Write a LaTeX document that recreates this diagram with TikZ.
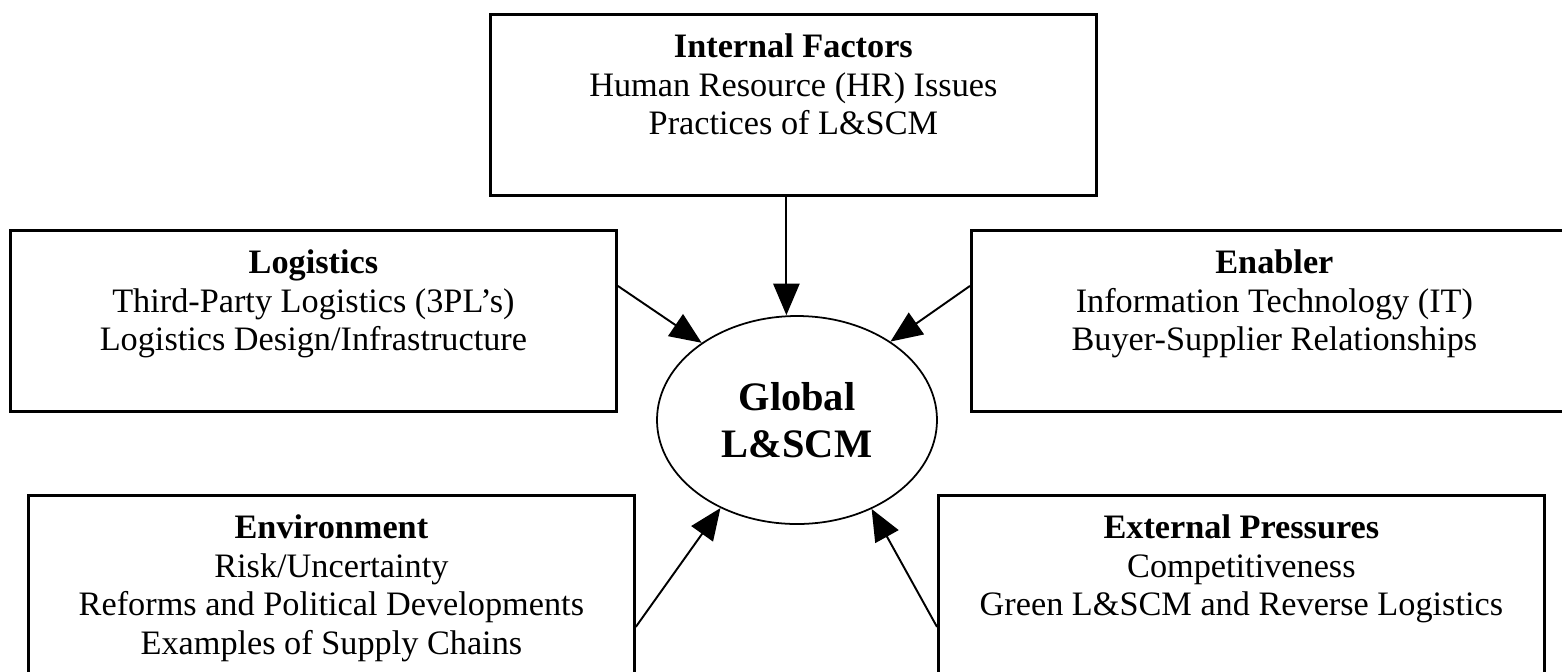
\documentclass[tikz,border=0pt]{standalone}
\usepackage{fontspec}
\setmainfont{Liberation Serif}
\usetikzlibrary{arrows.meta}
\usetikzlibrary{shapes.geometric}

\tikzset{
  factorbox/.style={draw, line width=0.8pt, minimum width=60.6mm, minimum height=18.1mm, inner sep=0pt, anchor=north west},
  factortext/.style={align=center, anchor=north, inner sep=0pt, font=\fontsize{9.75}{11}\selectfont},
  hub/.style={draw, ellipse, line width=0.5pt, minimum width=28mm, minimum height=20.8mm, inner sep=0pt, align=center, font=\fontsize{11.5}{13.4}\selectfont\bfseries},
  feed/.style={-{Triangle[length=9pt,width=7.5pt]}, line width=0.55pt}
}

\begin{document}
\begin{tikzpicture}[x=0.1mm, y=-0.1mm]
  % Boundary
  \useasboundingbox (0,0) rectangle (1562,671);
  % Factor boxes
  \node[factorbox] (intf) at (489,13) {};
  \node[factorbox] (logi) at (9,229) {};
  \node[factorbox] (enab) at (970,229) {};
  \node[factorbox] (envi) at (27,494) {};
  \node[factorbox] (extp) at (937,494) {};
  % Box texts
  \node[factortext] (intftxt) at ([yshift=-4.8pt]intf.north) {\strut\textbf{Internal Factors}\\Human Resource (HR) Issues\\Practices of L\&SCM};
  \node[factortext] (logitxt) at ([yshift=-4.8pt]logi.north) {\strut\textbf{Logistics}\\Third-Party Logistics (3PL's)\\Logistics Design/Infrastructure};
  \node[factortext] (enabtxt) at ([yshift=-4.8pt]enab.north) {\strut\textbf{Enabler}\\Information Technology (IT)\\Buyer-Supplier Relationships};
  \node[factortext] (envitxt) at ([yshift=-4.8pt]envi.north) {\strut\textbf{Environment}\\Risk/Uncertainty\\Reforms and Political Developments\\Examples of Supply Chains};
  \node[factortext] (extptxt) at ([yshift=-4.8pt]extp.north) {\strut\textbf{External Pressures}\\Competitiveness\\Green L\&SCM and Reverse Logistics};
  % Centre
  \node[hub] (glob) at (797,420) {Global\\L\&SCM};
  % Arrows
  \coordinate (intfout) at ([xshift=-0.7mm]intf.south);
  \draw[feed] (intfout) -- (intfout |- glob.north);
  \draw[feed] ([yshift=3.5mm]logi.east) -- (glob.141);
  \draw[feed] ([yshift=3.5mm]enab.west) -- (glob.40);
  \draw[feed] ([yshift=-4.1mm]envi.east) -- (glob.-131);
  \draw[feed] ([yshift=-4.1mm]extp.west) -- (glob.-50);
\end{tikzpicture}
\end{document}
